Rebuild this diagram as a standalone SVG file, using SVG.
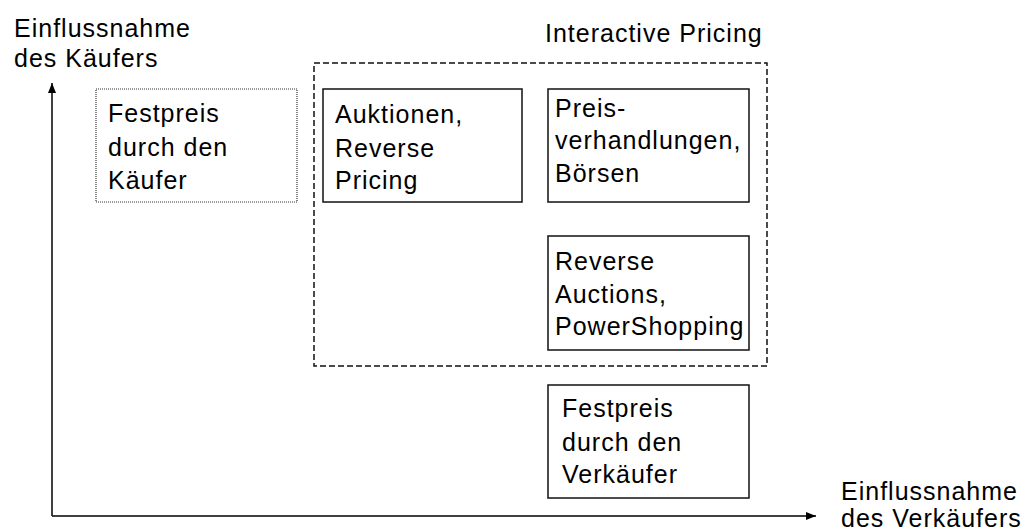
<svg xmlns="http://www.w3.org/2000/svg" width="1033" height="531" viewBox="0 0 1033 531">
<style>
text{font-family:"Liberation Sans",Arial,sans-serif;font-size:25px;letter-spacing:1px;fill:#000}
.box{fill:#fff;stroke:#111;stroke-width:1.5}
.dot{fill:#fff;stroke:#333;stroke-width:1.2;stroke-dasharray:1 1}
.dash{fill:none;stroke:#111;stroke-width:1.5;stroke-dasharray:6 3}
.axis{stroke:#000;stroke-width:1.5;fill:none}
</style>
<defs>
<marker id="arr" viewBox="0 0 10 8" refX="10" refY="4" markerWidth="10" markerHeight="8" markerUnits="userSpaceOnUse" orient="auto">
<path d="M0,0 L10,4 L0,8 z" fill="#000"/>
</marker>
</defs>
<g id="connectors">
<path class="axis" d="M52,516 L52,83" marker-end="url(#arr)"/>
<path class="axis" d="M52,516 L816,516" marker-end="url(#arr)"/>
</g>
<g id="axis-labels">
<text x="14" y="37">Einflussnahme</text>
<text x="14" y="67">des Käufers</text>
<text x="841" y="500">Einflussnahme</text>
<text x="841" y="527">des Verkäufers</text>
</g>
<g id="interactive-pricing">
<rect class="dash" x="314" y="63" width="453" height="303"/>
<text x="545" y="42">Interactive Pricing</text>
</g>
<g id="festpreis-kaeufer">
<rect class="dot" x="96" y="89" width="201" height="113"/>
<text x="108" y="122">Festpreis</text>
<text x="108" y="156">durch den</text>
<text x="108" y="189">Käufer</text>
</g>
<g id="auktionen">
<rect class="box" x="323" y="89" width="199" height="113"/>
<text x="335" y="123">Auktionen,</text>
<text x="335" y="157">Reverse</text>
<text x="335" y="189">Pricing</text>
</g>
<g id="preisverhandlungen">
<rect class="box" x="548" y="89" width="201" height="113"/>
<text x="555" y="117">Preis-</text>
<text x="555" y="149">verhandlungen,</text>
<text x="555" y="182">Börsen</text>
</g>
<g id="reverse-auctions">
<rect class="box" x="548" y="236" width="201" height="114"/>
<text x="555" y="270">Reverse</text>
<text x="555" y="303">Auctions,</text>
<text x="555" y="335">PowerShopping</text>
</g>
<g id="festpreis-verkaeufer">
<rect class="box" x="548" y="385" width="201" height="113"/>
<text x="562" y="417">Festpreis</text>
<text x="562" y="451">durch den</text>
<text x="562" y="483">Verkäufer</text>
</g>
</svg>
